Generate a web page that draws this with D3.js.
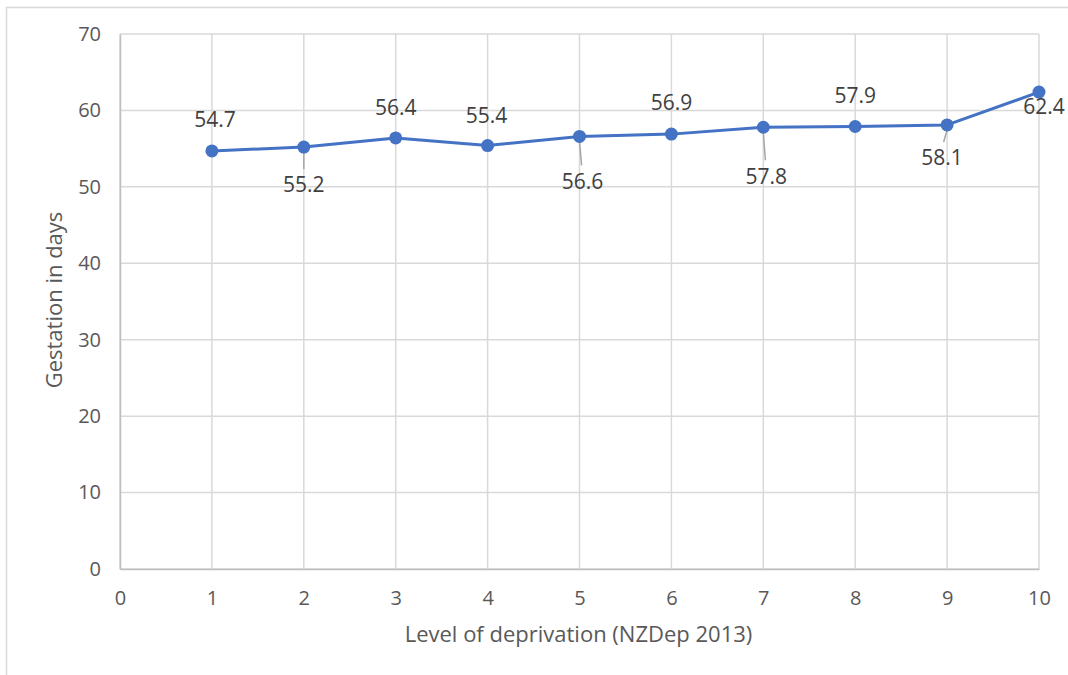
<!DOCTYPE html>
<html>
<head>
<meta charset="utf-8">
<script src="https://cdn.jsdelivr.net/npm/d3@7"></script>
<style>
	body { margin: 0; background: #fff; overflow: hidden; }
	svg { display: block; font-family: "Open Sans", "Noto Sans", sans-serif; }
</style>
</head>
<body>
<svg width="1068" height="675"></svg>
<script>

// Level of deprivation (NZDep 2013) vs gestation in days
const levels = [1, 2, 3, 4, 5, 6, 7, 8, 9, 10];
const gestation = [54.7, 55.2, 56.4, 55.4, 56.6, 56.9, 57.8, 57.9, 58.1, 62.4];
const xTicks = [0, 1, 2, 3, 4, 5, 6, 7, 8, 9, 10];
const yTicks = [0, 10, 20, 30, 40, 50, 60, 70];

// where each data label sits relative to its point (dx, dy of label centre, leader line or not)
const labelPlacement = [
	{ dx: 3, dy: -31, leader: false },
	{ dx: 0, dy: 38, leader: true },
	{ dx: 0, dy: -30, leader: false },
	{ dx: -1, dy: -30, leader: false },
	{ dx: 3, dy: 45, leader: true },
	{ dx: 0, dy: -31, leader: false },
	{ dx: 3, dy: 49, leader: true },
	{ dx: 0, dy: -31, leader: false },
	{ dx: -5, dy: 33, leader: true },
	{ dx: 5, dy: 15, leader: false }
];

const MARGIN = { top: 34, right: 29, bottom: 106, left: 120 };

const svg = d3.select('svg');
const width = +svg.attr('width') - MARGIN.left - MARGIN.right;
const height = +svg.attr('height') - MARGIN.top - MARGIN.bottom;

// chart frame
svg.append('rect')
	.attr('x', 6.5).attr('y', 7.5)
	.attr('width', 1080).attr('height', 700)
	.attr('fill', '#fff')
	.attr('stroke', '#d9d9d9')
	.attr('stroke-width', 1.5);

const x = d3.scaleLinear().domain([0, 10]).range([0, width]);
const y = d3.scaleLinear().domain([0, 70]).range([height, 0]);

const g = svg.append('g')
	.attr('transform', 'translate(' + MARGIN.left + ' ' + MARGIN.top + ')');

// gridlines
g.append('g')
	.selectAll('line')
	.data(yTicks)
	.enter()
	.append('line')
	.attr('x1', 0).attr('x2', width)
	.attr('y1', d => y(d)).attr('y2', d => y(d))
	.attr('stroke', '#d9d9d9')
	.attr('stroke-width', 1.5);

g.append('g')
	.selectAll('line')
	.data(xTicks)
	.enter()
	.append('line')
	.attr('x1', d => x(d)).attr('x2', d => x(d))
	.attr('y1', 0).attr('y2', height)
	.attr('stroke', '#d9d9d9')
	.attr('stroke-width', 1.5);

// axes
const xAxis = g.append('g')
	.attr('transform', 'translate(0,' + height + ')')
	.call(d3.axisBottom(x).tickValues(xTicks).tickSize(0).tickPadding(22).tickFormat(d3.format('d')));
xAxis.select('.domain').attr('stroke', '#bfbfbf').attr('stroke-width', 1.5);

const yAxis = g.append('g')
	.call(d3.axisLeft(y).tickValues(yTicks).tickSize(0).tickPadding(19).tickFormat(d3.format('d')));
yAxis.select('.domain').attr('stroke', '#bfbfbf').attr('stroke-width', 1.5);

svg.selectAll('.tick text')
	.attr('fill', '#595959')
	.style('font-size', '20px')
	.style('font-family', '"Open Sans", "Noto Sans", sans-serif');

// axis titles
svg.append('text')
	.attr('x', MARGIN.left + width / 2 - 1)
	.attr('y', 642)
	.attr('text-anchor', 'middle')
	.attr('fill', '#595959')
	.style('font-size', '22px')
	.text('Level of deprivation (NZDep 2013)');

svg.append('text')
	.attr('transform', 'translate(62 300) rotate(-90)')
	.attr('text-anchor', 'middle')
	.attr('fill', '#595959')
	.style('font-size', '22px')
	.text('Gestation in days');

const points = levels.map((d, i) => ({ level: d, value: gestation[i], place: labelPlacement[i] }));

// leader lines
g.append('g')
	.selectAll('line')
	.data(points.filter(d => d.place.leader))
	.enter()
	.append('line')
	.attr('x1', d => x(d.level))
	.attr('y1', d => y(d.value) + 5)
	.attr('x2', d => x(d.level) + d.place.dx * 0.7)
	.attr('y2', d => y(d.value) + d.place.dy - 16)
	.attr('stroke', '#a6a6a6')
	.attr('stroke-width', 1.5);

// series line
const line = d3.line()
	.x(d => x(d.level))
	.y(d => y(d.value));

g.append('path')
	.datum(points)
	.attr('d', line)
	.attr('fill', 'none')
	.attr('stroke', '#4472c4')
	.attr('stroke-width', 3)
	.attr('stroke-linejoin', 'round');

g.selectAll('.marker')
	.data(points)
	.enter()
	.append('circle')
	.attr('class', 'marker')
	.attr('cx', d => x(d.level))
	.attr('cy', d => y(d.value))
	.attr('r', 6.5)
	.attr('fill', '#4472c4');

// data labels
g.selectAll('.label')
	.data(points)
	.enter()
	.append('text')
	.attr('class', 'label')
	.attr('x', d => x(d.level) + d.place.dx)
	.attr('y', d => y(d.value) + d.place.dy)
	.attr('dy', '0.35em')
	.attr('text-anchor', 'middle')
	.attr('fill', '#404040')
	.style('font-size', '21px')
	.text(d => d.value.toFixed(1));

</script>
</body>
</html>
